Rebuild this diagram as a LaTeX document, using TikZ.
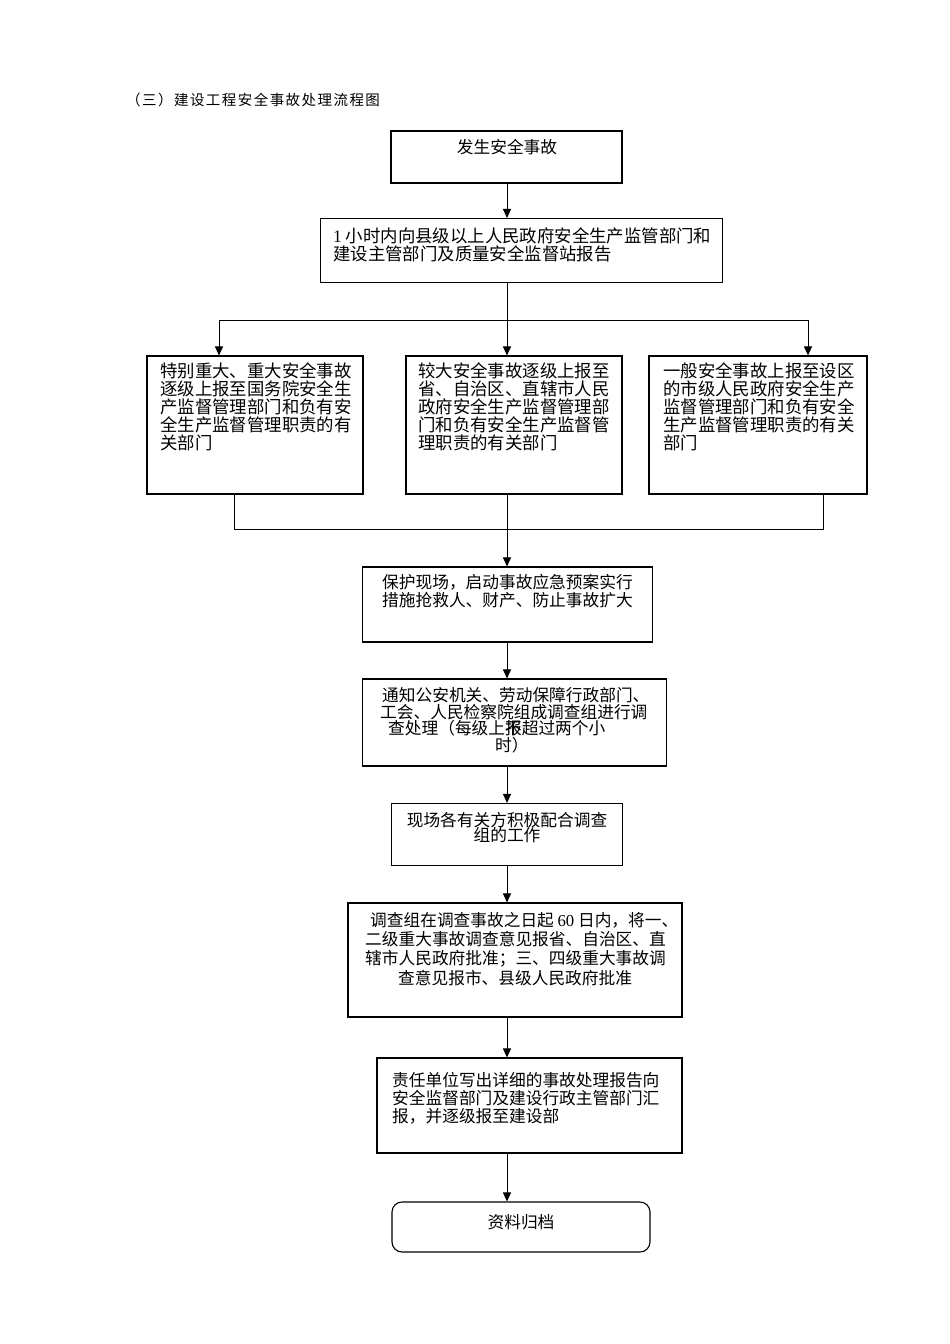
\documentclass[tikz,border=0pt]{standalone}
\usepackage{fontspec}
\setmainfont{Liberation Serif}
\newfontfamily\cjk{Noto Sans CJK SC}
\newfontfamily\cjktitle[LetterSpace=10]{Noto Sans CJK SC}
\usetikzlibrary{arrows.meta}
\newcommand\lat[1]{{\rmfamily #1}}
\begin{document}
\begin{tikzpicture}[x=1pt,y=-1pt,
  boxst/.style={draw=black, line width=1.1pt, rectangle, inner sep=0pt},
  txt/.style={font=\cjk\fontsize{16.7}{18}\selectfont, inner sep=0pt, align=left, anchor=north west},
  wtxt/.style={txt, font=\cjk\fontsize{17.4}{18}\selectfont},
  ctxt/.style={font=\cjk\fontsize{16.7}{18}\selectfont, inner sep=0pt, align=center},
  arr/.style={-{Triangle[length=9pt,width=8pt]}, line width=1pt},
  ln/.style={line width=1pt}]
\useasboundingbox (0,0) rectangle (950,1344);
\fill[white] (0,0) rectangle (950,1344);

% title
\node[anchor=west, inner sep=0pt, font=\cjktitle\fontsize{14.5}{16}\selectfont] (title) at (126,100) {（三）建设工程安全事故处理流程图};

% boxes
\node[boxst, minimum width=231pt, minimum height=52pt] (b1) at (506.5,157) {};
\node[boxst, minimum width=402pt, minimum height=64pt] (b2) at (521.5,250.5) {};
\node[boxst, minimum width=216pt, minimum height=138pt] (b3L) at (255,425) {};
\node[boxst, minimum width=216pt, minimum height=138pt] (b3M) at (514,425) {};
\node[boxst, minimum width=218pt, minimum height=138pt] (b3R) at (758,425) {};
\node[boxst, minimum width=290pt, minimum height=75pt] (b4) at (507.5,604.5) {};
\node[boxst, minimum width=304pt, minimum height=87pt] (b5) at (514.5,722.5) {};
\node[boxst, minimum width=231pt, minimum height=62pt] (b6) at (507,834.5) {};
\node[boxst, minimum width=334pt, minimum height=114pt] (b7) at (515,960) {};
\node[boxst, minimum width=305pt, minimum height=95pt] (b8) at (529.5,1105.5) {};
\node[boxst, rounded corners=10pt, minimum width=258pt, minimum height=50pt] (b9) at (521,1227) {};

% texts
\node[ctxt] (t1) at (507,147) {发生安全事故};
\node[wtxt] (t2) at (333,227) {\lat{1} 小时内向县级以上人民政府安全生产监管部门和\\建设主管部门及质量安全监督站报告};
\node[wtxt] (t3L) at (160,362) {特别重大、重大安全事故\\逐级上报至国务院安全生\\产监督管理部门和负有安\\全生产监督管理职责的有\\关部门};
\node[wtxt] (t3M) at (418,362) {较大安全事故逐级上报至\\省、自治区、直辖市人民\\政府安全生产监督管理部\\门和负有安全生产监督管\\理职责的有关部门};
\node[wtxt] (t3R) at (663,362) {一般安全事故上报至设区\\的市级人民政府安全生产\\监督管理部门和负有安全\\生产监督管理职责的有关\\部门};
\node[txt] (t4) at (382,574) {保护现场，启动事故应急预案实行\\措施抢救人、财产、防止事故扩大};
\node[txt, font=\cjk\fontsize{16.7}{16.7}\selectfont] (t5) at (380,687) {\hspace*{2pt}通知公安机关、劳动保障行政部门、\\工会、人民检察院组成调查组进行调\\\hspace*{8pt}查处理（每级上\rlap{报}不超过两个小\\\hspace*{115pt}时）};
\node[ctxt, anchor=north, font=\cjk\fontsize{16.7}{15.5}\selectfont] (t6) at (507,812) {现场各有关方积极配合调查\\组的工作};
\node[txt, font=\cjk\fontsize{16.7}{19.3}\selectfont] (t7) at (365,912) {\hspace*{5pt}调查组在调查事故之日起 \lat{60} 日内，将一、\\二级重大事故调查意见报省、自治区、直\\辖市人民政府批准；三、四级重大事故调\\\hspace*{33pt}查意见报市、县级人民政府批准};
\node[txt] (t8) at (392,1072) {责任单位写出详细的事故处理报告向\\安全监督部门及建设行政主管部门汇\\报，并逐级报至建设部};
\node[ctxt] (t9) at (521,1222) {资料归档};

% connectors
\coordinate (sp) at (507,0);
\coordinate (split) at (507,320);
\coordinate (aL) at (219,320);
\coordinate (aR) at (808,320);
\coordinate (mL) at (234,529);
\coordinate (mR) at (823,529);
\coordinate (merge) at (507,529);

\draw[arr] (sp |- b1.south) -- (sp |- b2.north);
\draw[ln] (sp |- b2.south) -- (split);
\draw[ln] (aL) -- (aR);
\draw[arr] (aL) -- (aL |- b3L.north);
\draw[arr] (split) -- (sp |- b3M.north);
\draw[arr] (aR) -- (aR |- b3R.north);
\draw[ln] (mL |- b3L.south) -- (mL) -- (mR) -- (mR |- b3R.south);
\draw[ln] (sp |- b3M.south) -- (merge);
\draw[arr] (merge) -- (sp |- b4.north);
\draw[arr] (sp |- b4.south) -- (sp |- b5.north);
\draw[arr] (sp |- b5.south) -- (sp |- b6.north);
\draw[arr] (sp |- b6.south) -- (sp |- b7.north);
\draw[arr] (sp |- b7.south) -- (sp |- b8.north);
\draw[arr] (sp |- b8.south) -- (sp |- b9.north);
\end{tikzpicture}
\end{document}
